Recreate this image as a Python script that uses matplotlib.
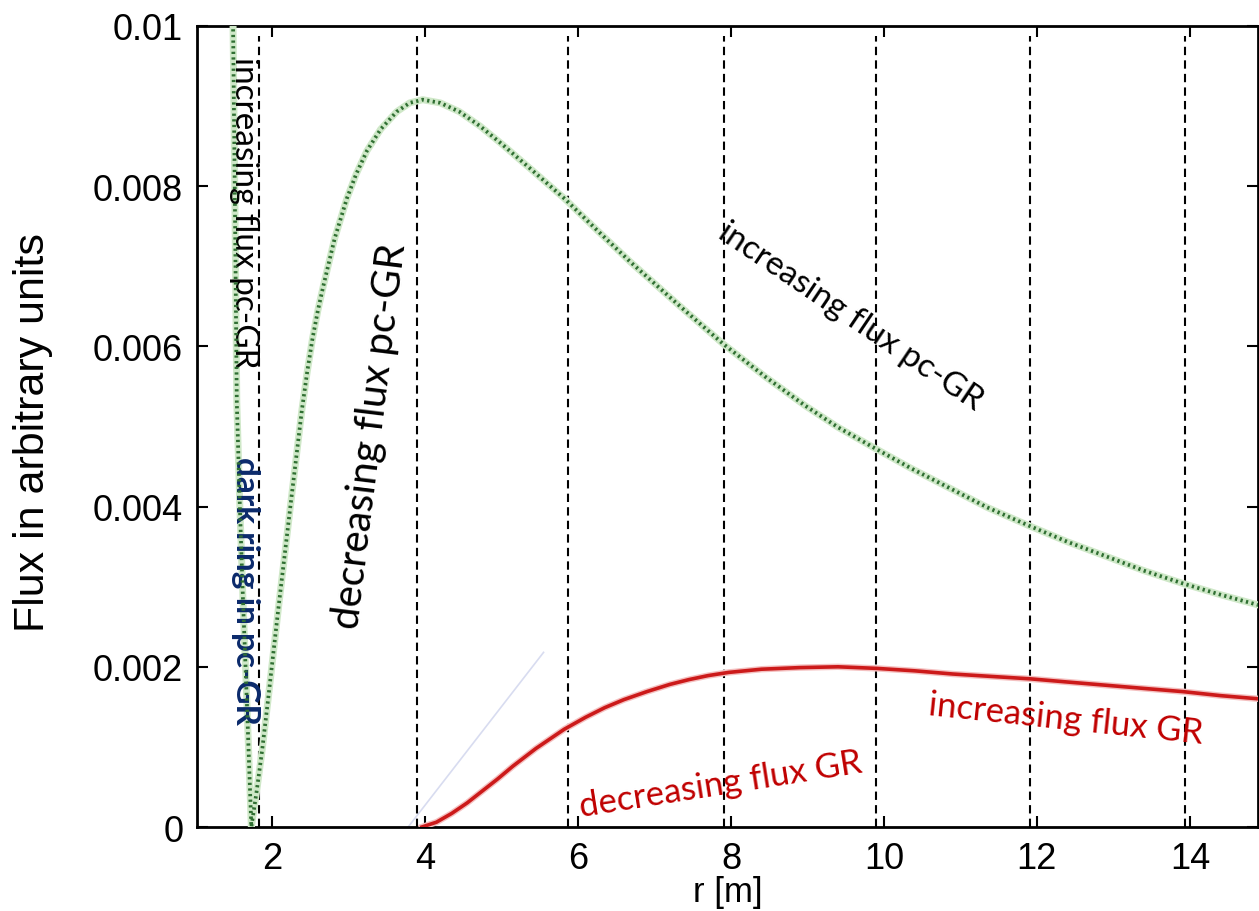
import matplotlib
matplotlib.use('Agg')
import matplotlib.pyplot as plt

# pc-GR flux (green dotted curve)
pcgr_r = [1.49, 1.515, 1.54, 1.58, 1.62, 1.67, 1.70, 1.73,
          1.80, 1.87, 1.95, 2.08, 2.24, 2.39, 2.46, 2.53, 2.60, 2.67, 2.82, 2.98,
          3.10, 3.24, 3.42, 3.63, 3.80, 3.97, 4.20, 4.45, 4.72, 5.00,
          5.40, 5.83, 6.25, 6.69, 7.30, 7.90, 8.45, 8.97, 9.40, 9.86,
          10.35, 10.84, 11.35, 11.90, 12.40, 12.93, 13.40, 13.91, 14.40, 14.90]
pcgr_f = [0.0101, 0.0078, 0.0053, 0.0040, 0.00285, 0.0016, 0.0008, 0.0,
          0.00045, 0.00095, 0.0016, 0.0027, 0.0040, 0.0052, 0.00568, 0.0061, 0.00645, 0.00675,
          0.00735, 0.00785,
          0.00815, 0.00844, 0.00871, 0.00893, 0.00904, 0.00908, 0.00904, 0.00893, 0.00875, 0.00853,
          0.0082, 0.00784, 0.00745, 0.00705, 0.00653, 0.00603, 0.00562, 0.00526, 0.00499, 0.00474,
          0.00448, 0.00424, 0.00399, 0.00376, 0.00356, 0.00337, 0.0032, 0.00304, 0.0029, 0.00277]

# GR flux (red curve)
gr_r = [3.96, 4.15, 4.35, 4.55, 4.75, 4.95, 5.15, 5.45, 5.82, 6.10, 6.35, 6.60, 6.90,
        7.20, 7.45, 7.70, 7.97, 8.40, 8.90, 9.40, 9.91, 10.40, 10.90, 11.40, 11.91,
        12.40, 12.90, 13.40, 13.91, 14.40, 14.90]
gr_f = [0.0, 0.00006, 0.00017, 0.0003, 0.00045, 0.0006, 0.00076, 0.00098, 0.00122,
        0.00137, 0.00149, 0.00159, 0.00169, 0.00178, 0.00184, 0.00189, 0.00193, 0.00197,
        0.00199, 0.0020, 0.00198, 0.00195, 0.00191, 0.00188, 0.00185, 0.00181, 0.00177,
        0.00173, 0.00169, 0.00164, 0.0016]

# faint blue remnant
blue_r = [3.78, 5.55]
blue_f = [0.0, 0.00218]

# vertical dashed markers
marker_r = [1.83, 3.90, 5.87, 7.91, 9.90, 11.91, 13.93]

xticks = [2, 4, 6, 8, 10, 12, 14]
yticks = [0, 0.002, 0.004, 0.006, 0.008, 0.01]
ytick_labels = ['0', '0.002', '0.004', '0.006', '0.008', '0.01']

plt.rcParams['font.family'] = ['Liberation Sans', 'DejaVu Sans']

fig = plt.figure(figsize=(12.59, 9.12), dpi=100)
ax = fig.add_axes([0.1565, 0.0921, 0.8427, 0.8783])

for r in marker_r:
    ax.axvline(r, ymin=0, ymax=0.987, color='black', lw=1.5, dashes=(4, 2.5), zorder=2)

ax.plot(blue_r, blue_f, color='#d8dcf0', lw=1.2, zorder=1)

ax.plot(pcgr_r, pcgr_f, color='#cfe8c8', lw=5.0, solid_capstyle='round', zorder=3)
ax.plot(pcgr_r, pcgr_f, color='#2f6f32', lw=2.7, linestyle=(0, (0.6, 0.9)), zorder=4)

ax.plot(gr_r, gr_f, color='#f4c0c0', lw=4.6, zorder=3)
ax.plot(gr_r, gr_f, color='#cc1a1a', lw=2.6, zorder=4)

ax.set_xlim(1.02, 14.89)
ax.set_ylim(0, 0.01)
ax.set_xticks(xticks)
ax.set_yticks(yticks)
ax.set_yticklabels(ytick_labels)
ax.tick_params(direction='in', length=8, width=1.5, labelsize=26, pad=10,
               top=True, right=True)
for s in ax.spines.values():
    s.set_linewidth(2)

ax.set_xlabel('r [m]', fontsize=25)
ax.set_ylabel('Flux in arbitrary units', fontsize=31)
ax.xaxis.set_label_coords(0.5, -0.06)
ax.yaxis.set_label_coords(-0.136, 0.494)

note = ['Lato', 'DejaVu Sans']
ax.text(1.63, 0.00768, 'increasing flux pc-GR', rotation=-90, ha='center', va='center',
        fontsize=24, family=note, color='black')
ax.text(1.65, 0.00296, 'dark ring in pc-GR', rotation=-90, ha='center', va='center',
        fontsize=24, family=note, weight='bold', color='#0b2a6b')
ax.text(3.28, 0.00489, 'decreasing flux pc-GR', rotation=83, ha='center', va='center',
        fontsize=29, family=note, color='black')
ax.text(9.56, 0.00638, 'increasing flux pc-GR', rotation=-34, ha='center', va='center',
        fontsize=24, family=note, color='black')
ax.text(7.86, 0.00054, 'decreasing flux GR', rotation=9, ha='center', va='center',
        fontsize=25, family=note, color='#c00000')
ax.text(12.37, 0.00135, 'increasing flux GR', rotation=-6, ha='center', va='center',
        fontsize=25, family=note, color='#c00000')

fig.savefig('out.png', dpi=100)
